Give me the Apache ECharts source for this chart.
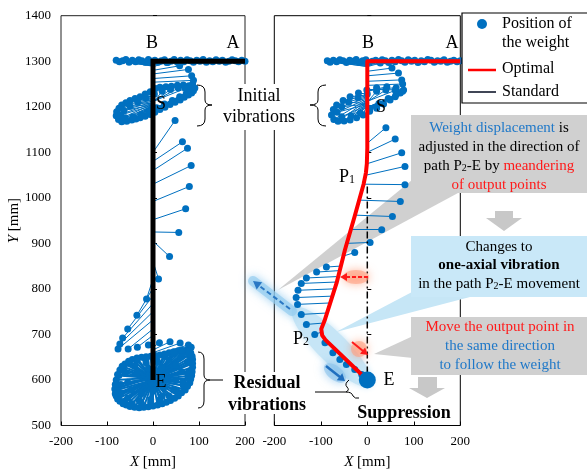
<!DOCTYPE html>
<html>
<head>
<meta charset="utf-8">
<script src="https://cdn.jsdelivr.net/npm/echarts@6/dist/echarts.min.js"></script>
<style>
html,body{margin:0;padding:0;background:#fff;}
#chart{width:587px;height:472px;}
</style>
</head>
<body>
<div id="chart"></div>
<script>
// ---------------- axis ticks ----------------
const xTicks = [-200, -100, 0, 100, 200];
const yTicks = [500, 600, 700, 800, 900, 1000, 1100, 1200, 1300, 1400];

// ---------------- Standard (left panel) ----------------
const stdPathX = [200, 0, 0];
const stdPathY = [1300, 1300, 600];

// weight positions (W) and output points (O) along A-B
const stdRowWX = [200,193,186,179,172,165,158,151,144,137,130,123,116,109,102,95,88,81,74,67,60,53,46,39,32,25,18,11,4,-3,-10,-17,-24,-31,-38,-45,-52,-59,-66,-73,-80];
const stdRowWY = [1300,1302,1299,1301,1303,1300,1298,1302,1300,1303,1299,1301,1298,1304,1300,1302,1298,1301,1303,1299,1302,1298,1304,1300,1297,1303,1301,1298,1302,1300,1304,1298,1301,1303,1299,1302,1298,1304,1301,1299,1302];
const stdRowOX = [200,197,192,186,180,174,167,160,153,146,139,132,125,118,111,104,97,90,83,76,69,62,55,48,41,34,27,20,13,6,0,0,0,0,0,0,0,0,0,0,0];
const stdRowOY = [1300,1300,1300,1300,1300,1300,1300,1300,1300,1300,1300,1300,1300,1300,1300,1300,1300,1300,1300,1300,1300,1300,1300,1300,1300,1300,1300,1300,1300,1300,1299,1298,1297,1296,1295,1294,1293,1292,1291,1290,1289];
// fan after B
const stdFanWX = [30,58,77,84,88,86];
const stdFanWY = [1297,1290,1282,1268,1258,1250];
const stdFanOX = [0,0,0,0,0,0];
const stdFanOY = [1288,1280,1272,1262,1254,1246];
// initial vibrations swirl
const stdSwirlWX = [91,78,66,53,40,28,15,4,-6,-17,-28,-39,-50,-59,-68,-74,-79,-80,-75,-68,-57,-46,-37,-28,-17,-6,4,15,26,37,48,59,68,77,84,88,70,55,38,20,3,-15,-33,-50,-63,-70,-60,-44,-26,-10,8,25,42,58,72,82];
const stdSwirlWY = [1241,1246,1248,1247,1245,1244,1243,1239,1233,1228,1222,1218,1214,1209,1204,1197,1189,1180,1172,1167,1168,1171,1173,1176,1179,1183,1188,1194,1199,1205,1210,1215,1221,1226,1230,1235,1240,1241,1238,1234,1228,1219,1210,1201,1192,1182,1176,1178,1183,1190,1198,1206,1214,1222,1228,1236];
const stdSwirlOX = [0,0,0,0,0,0,0,0,0,0,0,0,0,0,0,0,0,0,0,0,0,0,0,0,0,0,0,0,0,0,0,0,0,0,0,0,0,0,0,0,0,0,0,0,0,0,0,0,0,0,0,0,0,0,0,0];
const stdSwirlOY = [1242,1240,1238,1236,1234,1232,1230,1228,1226,1224,1222,1220,1218,1216,1214,1212,1210,1208,1206,1204,1203,1202,1201,1200,1199,1198,1197,1196,1195,1194,1193,1192,1191,1190,1189,1188,1212,1211,1210,1209,1208,1207,1206,1205,1204,1203,1202,1201,1200,1199,1198,1197,1196,1195,1194,1193];
// descending B-E
const stdDescWX = [48,64,75,83,79,71,56,36,12,-14,-35,-55,-66,-72,-76,-54,-34,-10,14,37,59,77,83];
const stdDescWY = [1170,1123,1109,1071,1025,976,924,871,822,778,742,712,692,679,668,668,672,677,682,684,681,677,672];
const stdDescOX = [0,0,0,0,0,0,0,0,0,0,0,0,0,0,0,0,0,0,0,0,0,0,0];
const stdDescOY = [1100,1080,1060,1030,992,952,925,905,860,822,802,785,768,750,732,712,698,688,672,666,660,654,648];
// residual vibrations at E
const stdResWX = [-83,-80,-72,-61,-45,-25,-5,15,35,55,72,82,86,86,84,80,70,55,38,20,0,-20,-40,-58,-72,-80,
  -70,-60,-40,-15,10,35,60,75,75,65,45,20,-5,-30,-55,-70,
  -55,-35,-10,20,50,62,50,25,0,-25,-48,
  -78,-74,-66,-52,-35,-15,5,25,45,65,78,82,80,76,66,52,35,15,-5,-25,-45,-62,-74,-79,
  -82,-77,-67,-53,-35,-15,5,25,45,63,78,85,86,85,82,75,62,47,29,10,-10,-30,-50,-65,-77,-82];
const stdResWY = [580,600,622,635,645,650,652,655,660,664,665,660,645,628,610,594,578,565,555,548,543,540,540,545,553,565,
  590,615,630,638,640,645,650,640,615,595,578,565,557,555,560,572,
  595,615,625,628,632,618,600,585,575,570,578,
  590,610,625,637,643,646,648,652,657,660,655,638,620,603,588,575,565,557,551,548,548,553,565,578,
  590,612,630,641,648,651,654,657,662,665,663,652,636,618,602,586,572,560,551,545,541,539,542,548,558,570];
const stdResOX = [0,0,0,0,0,0,0,0,0,0,0,0,0,0,0,0,0,0,0,0,0,0,0,0,0,0,
  0,0,0,0,0,0,0,0,0,0,0,0,0,0,0,0,
  0,0,0,0,0,0,0,0,0,0,0,
  0,0,0,0,0,0,0,0,0,0,0,0,0,0,0,0,0,0,0,0,0,0,0,0,
  0,0,0,0,0,0,0,0,0,0,0,0,0,0,0,0,0,0,0,0,0,0,0,0,0,0];
const stdResOY = [606,605,605,604,604,603,603,602,602,602,601,601,601,600,600,600,600,600,600,600,600,600,600,600,600,600,
  603,603,602,602,602,601,601,601,600,600,600,600,600,600,600,600,
  601,601,601,600,600,600,600,600,600,600,600,
  604,604,603,603,603,602,602,602,601,601,601,600,600,600,600,600,600,600,600,600,600,600,600,600,
  605,605,604,604,603,603,603,602,602,602,601,601,601,600,600,600,600,600,600,600,600,600,600,600,600,600];

// ---------------- Optimal (right panel) ----------------
const optPathX = [200, 0, 0, -1, -3, -8, -27, -48, -66, -92, -99, -97, -90, 0];
const optPathY = [1300, 1300, 1110, 1075, 1055, 1030, 960, 886, 813, 730, 712, 698, 688, 600];
const refLineX = [0, 0];
const refLineY = [1025, 600];

const optRowWX = [200,193,186,179,172,165,158,151,144,137,130,123,116,109,102,95,88,81,74,67,60,53,46,39,32,25,18,11,4,-3,-10,-17,-24,-31,-38,-45,-52,-59,-66,-73,-80,-86];
const optRowWY = [1301,1299,1302,1300,1298,1303,1300,1301,1298,1302,1304,1299,1301,1297,1302,1300,1303,1298,1301,1304,1299,1302,1297,1301,1303,1299,1302,1300,1297,1303,1301,1298,1304,1300,1302,1297,1301,1303,1299,1302,1298,1301];
const optRowOX = [200,197,192,186,180,174,167,160,153,146,139,132,125,118,111,104,97,90,83,76,69,62,55,48,41,34,27,20,13,6,0,0,0,0,0,0,0,0,0,0,0,0];
const optRowOY = [1300,1300,1300,1300,1300,1300,1300,1300,1300,1300,1300,1300,1300,1300,1300,1300,1300,1300,1300,1300,1300,1300,1300,1300,1300,1300,1300,1300,1300,1300,1299,1298,1297,1296,1295,1294,1293,1292,1291,1290,1289,1288];
const optFanWX = [28,53,67,74,76];
const optFanWY = [1296,1285,1274,1259,1250];
const optFanOX = [0,0,0,0,0];
const optFanOY = [1288,1278,1268,1256,1247];
const optSwirlWX = [78,62,42,20,-1,-19,-37,-52,-66,-73,-77,-72,-63,-50,-37,-23,-9,5,20,35,49,60,71,76,60,40,20,0,-20,-40,-55,-65,-55,-35,-15,5,25,45,62];
const optSwirlWY = [1237,1242,1244,1242,1237,1230,1222,1214,1204,1194,1182,1172,1168,1169,1171,1176,1182,1190,1197,1206,1215,1222,1230,1234,1236,1237,1234,1228,1220,1210,1200,1188,1178,1180,1187,1196,1207,1218,1227];
const optSwirlOX = [0,0,0,0,0,0,0,0,0,0,0,0,0,0,0,0,0,0,0,0,0,0,0,0,0,0,0,0,0,0,0,0,0,0,0,0,0,0,0];
const optSwirlOY = [1238,1236,1234,1232,1230,1228,1226,1224,1222,1220,1218,1216,1214,1212,1210,1208,1206,1204,1202,1200,1198,1196,1194,1192,1212,1211,1210,1209,1208,1207,1206,1205,1204,1203,1202,1201,1200,1199,1198];
const optDescWX = [40,60,74,81,81,71,54,31,6,-27,-88,-109,-131,-142,-149,-153,-150,-142,-131,-113,-91,-74,-59,-45,-27,-12];
const optDescWY = [1154,1129,1099,1069,1029,992,959,930,902,880,848,837,824,812,797,781,766,744,722,700,682,660,645,634,623,612];
const optDescOX = [0,0,0,-2,-7,-18,-27,-36,-44,-52,-59,-62,-66,-69,-73,-78,-82,-88,-94,-99,-90,-62,-47,-35,-19,-8];
const optDescOY = [1120,1100,1075,1050,1030,995,962,930,900,872,850,840,827,815,800,784,769,747,725,705,684,660,645,634,618,608];
const endX = [0];
const endY = [600];

// ---------------- build ----------------
const BLUE = '#0070C0';
const FONT = '"Liberation Serif", "Times New Roman", serif';

function pts(xs, ys) { return xs.map((x, i) => [x, ys[i]]); }
function segs(ox, oy, wx, wy) { return ox.map((x, i) => ({ coords: [[x, oy[i]], [wx[i], wy[i]]] })); }

const stdWX = [].concat(stdRowWX, stdFanWX, stdSwirlWX, stdDescWX, stdResWX);
const stdWY = [].concat(stdRowWY, stdFanWY, stdSwirlWY, stdDescWY, stdResWY);
const stdOX = [].concat(stdRowOX, stdFanOX, stdSwirlOX, stdDescOX);
const stdOY = [].concat(stdRowOY, stdFanOY, stdSwirlOY, stdDescOY);
const stdLX = [].concat(stdRowWX, stdFanWX, stdSwirlWX, stdDescWX);
const stdLY = [].concat(stdRowWY, stdFanWY, stdSwirlWY, stdDescWY);
const optWX = [].concat(optRowWX, optFanWX, optSwirlWX, optDescWX);
const optWY = [].concat(optRowWY, optFanWY, optSwirlWY, optDescWY);
const optOX = [].concat(optRowOX, optFanOX, optSwirlOX, optDescOX);
const optOY = [].concat(optRowOY, optFanOY, optSwirlOY, optDescOY);

const labelFmt = function (v) { return String(v); };
function xAx(gi) {
  return {
    gridIndex: gi, type: 'value', min: xTicks[0], max: xTicks[xTicks.length - 1], interval: 100,
    axisLine: { show: false },
    axisTick: { show: true, inside: true, length: 4, lineStyle: { color: '#000' } },
    splitLine: { show: false },
    axisLabel: { color: '#000', fontSize: 13, fontFamily: FONT, margin: 10, formatter: labelFmt },
    name: '{i|X} [mm]', nameLocation: 'middle', nameGap: 29,
    nameTextStyle: { color: '#000', fontSize: 15, fontFamily: FONT,
      rich: { i: { fontStyle: 'italic', fontSize: 15, fontFamily: FONT, color: '#000' } } }
  };
}
function yAx(gi, labels) {
  const a = {
    gridIndex: gi, type: 'value', min: yTicks[0], max: yTicks[yTicks.length - 1], interval: 100,
    axisLine: { show: false },
    axisTick: { show: true, inside: true, length: 4, lineStyle: { color: '#000' } },
    splitLine: { show: false },
    axisLabel: { show: labels, color: '#000', fontSize: 13, fontFamily: FONT, margin: 10, formatter: labelFmt }
  };
  if (labels) {
    a.name = '{i|Y} [mm]'; a.nameLocation = 'middle'; a.nameGap = 39;
    a.nameTextStyle = { color: '#000', fontSize: 15, fontFamily: FONT,
      rich: { i: { fontStyle: 'italic', fontSize: 15, fontFamily: FONT, color: '#000' } } };
  }
  return a;
}

// ---------------- annotation graphics ----------------
function rich(size) {
  return {
    b: { fill: '#1f78c8', fontSize: size, fontFamily: FONT },
    r: { fill: '#ff1a1a', fontSize: size, fontFamily: FONT },
    k: { fill: '#000', fontSize: size, fontFamily: FONT, fontWeight: 'bold' },
    s: { fill: '#000', fontSize: Math.round(size * 0.66), fontFamily: FONT, verticalAlign: 'bottom', lineHeight: 6 }
  };
}
function T(x, y, text, size, extra, z) {
  return { type: 'text', x: x, y: y, z: z || 30, silent: true,
    style: Object.assign({ text: text, fontSize: size, fontFamily: FONT, fill: '#000',
      align: 'center', verticalAlign: 'middle', rich: rich(size) }, extra || {}) };
}
function arrow(x1, y1, x2, y2, color, w, dash, hl, hw, z) {
  const dx = x2 - x1, dy = y2 - y1, L = Math.hypot(dx, dy), ux = dx / L, uy = dy / L;
  const bx = x2 - ux * hl, by = y2 - uy * hl;
  return [
    { type: 'line', z: z, silent: true, shape: { x1: x1, y1: y1, x2: bx + ux, y2: by + uy },
      style: { stroke: color, lineWidth: w, lineDash: dash || null } },
    { type: 'polygon', z: z, silent: true, shape: { points: [[x2, y2], [bx - uy * hw, by + ux * hw], [bx + uy * hw, by - ux * hw]] },
      style: { fill: color } }
  ];
}
function bz(x1, y1, cx, cy, x2, y2) {
  return { type: 'bezierCurve', z: 12, silent: true, shape: { x1: x1, y1: y1, cpx1: cx, cpy1: cy, x2: x2, y2: y2 },
    style: { stroke: '#000', fill: null, lineWidth: 1 } };
}
function ln(x1, y1, x2, y2) {
  return { type: 'line', z: 12, silent: true, shape: { x1: x1, y1: y1, x2: x2, y2: y2 }, style: { stroke: '#000', lineWidth: 1 } };
}
function brace(xe, xm, xt, y0, ym, y1) {
  return [
    bz(xe, y0, xm, y0, xm, y0 + 7), ln(xm, y0 + 7, xm, ym - 5), bz(xm, ym - 5, xm, ym, xt, ym),
    bz(xt, ym, xm, ym, xm, ym + 5), ln(xm, ym + 5, xm, y1 - 7), bz(xm, y1 - 7, xm, y1, xe, y1)
  ];
}

const G = [];
// pointer wedges and highlight (behind data)
G.push({ type: 'polygon', z: 1, silent: true, shape: { points: [[412, 180], [458, 193], [278, 290]] }, style: { fill: '#d0d0d0' } });
G.push({ type: 'polygon', z: 1, silent: true, shape: { points: [[412, 292], [470, 297], [336, 332]] }, style: { fill: '#c6e6f6' } });
G.push({ type: 'polygon', z: 1, silent: true, shape: { points: [[413, 336], [413, 358], [374, 354]] }, style: { fill: '#d0d0d0' } });
G.push({ type: 'ellipse', z: 1, silent: true, x: 332, y: 347, rotation: -Math.PI / 4, shape: { cx: 0, cy: 0, rx: 55, ry: 15 },
  style: { fill: '#c6e5f6', shadowBlur: 6, shadowColor: '#c6e5f6' } });
// blue glow + dashed arrow
G.push({ type: 'line', z: 1, silent: true, shape: { x1: 292, y1: 311, x2: 253, y2: 281 },
  style: { stroke: 'rgba(150,205,240,0.7)', lineWidth: 10, lineCap: 'round', shadowBlur: 10, shadowColor: 'rgba(110,185,235,0.9)' } });
Array.prototype.push.apply(G, arrow(290, 309, 253, 281, '#2a78c4', 2, [5, 3], 8, 4.5, 6));
// red glow + dashed arrow (left)
G.push({ type: 'ellipse', z: 6, silent: true, shape: { cx: 356, cy: 277, rx: 13, ry: 7 },
  style: { fill: 'rgba(255,160,130,0.6)', shadowBlur: 10, shadowColor: '#ff8a60' } });
Array.prototype.push.apply(G, arrow(368, 277, 340, 277, '#ff1a1a', 2, [4, 2], 7, 4, 7));
// red glow + arrow (down-right)
G.push({ type: 'circle', z: 6, silent: true, shape: { cx: 359, cy: 349, r: 8 },
  style: { fill: 'rgba(255,160,130,0.6)', shadowBlur: 10, shadowColor: '#ff8a60' } });
Array.prototype.push.apply(G, arrow(352, 342, 368, 355, '#ff1a1a', 2, null, 7, 4, 7));
// blue glow + arrow (down-right)
G.push({ type: 'ellipse', z: 6, silent: true, x: 335, y: 373, rotation: -0.66, shape: { cx: 0, cy: 0, rx: 13, ry: 7 },
  style: { fill: 'rgba(140,195,235,0.6)', shadowBlur: 10, shadowColor: 'rgba(90,170,230,0.9)' } });
Array.prototype.push.apply(G, arrow(326, 366, 345, 381, '#1f6fbf', 2.5, null, 7, 4.5, 7));

// callout boxes
G.push({ type: 'rect', z: 20, silent: true, shape: { x: 411, y: 115, width: 177, height: 78 }, style: { fill: '#d0d0d0' } });
G.push(T(499, 128, '{b|Weight displacement} is', 15));
G.push(T(499, 147, 'adjusted in the direction of', 15));
G.push(T(499, 166, 'path P{s|2}-E by {r|meandering}', 15));
G.push(T(499, 185, '{r|of output points}', 15));
G.push({ type: 'polygon', z: 20, silent: true, shape: { points: [[495, 211], [513, 211], [513, 218], [522, 218], [504, 231], [486, 218], [495, 218]] }, style: { fill: '#c8c8c8' } });
G.push({ type: 'rect', z: 20, silent: true, shape: { x: 411, y: 236, width: 177, height: 61 }, style: { fill: '#c9e8f8' } });
G.push(T(499, 247, 'Changes to', 15));
G.push(T(499, 265, '{k|one-axial vibration}', 15));
G.push(T(499, 284, 'in the path P{s|2}-E movement', 15));
G.push({ type: 'rect', z: 20, silent: true, shape: { x: 411, y: 317, width: 177, height: 58 }, style: { fill: '#d0d0d0' } });
G.push(T(500, 327, '{r|Move the output point in}', 15));
G.push(T(500, 346, '{b|the same direction}', 15));
G.push(T(500, 365, '{b|to follow the weight}', 15));
G.push({ type: 'polygon', z: 20, silent: true, shape: { points: [[418, 377], [437, 377], [437, 388], [445, 388], [427, 398], [409, 388], [418, 388]] }, style: { fill: '#c8c8c8' } });
G.push(T(404, 413, 'Suppression', 18, { fontWeight: 'bold' }));

// braces and side labels
G.push({ type: 'rect', z: 10, silent: true, shape: { x: 221, y: 84, width: 77, height: 46 }, style: { fill: '#fff' } });
G.push(T(259, 96, 'Initial', 18));
G.push(T(259, 117, 'vibrations', 18));
Array.prototype.push.apply(G, brace(197, 205, 212, 85, 105, 126));
Array.prototype.push.apply(G, brace(326, 318, 310, 85, 105, 126));
G.push({ type: 'rect', z: 10, silent: true, shape: { x: 226, y: 372, width: 83, height: 42 }, style: { fill: '#fff' } });
G.push(T(267, 383, 'Residual', 18, { fontWeight: 'bold' }));
G.push(T(267, 405, 'vibrations', 18, { fontWeight: 'bold' }));
Array.prototype.push.apply(G, brace(198, 204, 210, 352, 380, 408));
G.push(ln(210, 380, 223, 380));
G.push(ln(315, 392, 346, 392));
G.push(bz(349, 380, 344, 384, 347, 387));
G.push(bz(347, 387, 350, 390, 346, 392));
G.push(bz(346, 392, 352, 392, 353, 396));
G.push(bz(353, 396, 355, 399, 359, 398));

// point letters
G.push(T(152, 43, 'B', 18));
G.push(T(233, 43, 'A', 18));
G.push(T(161, 104, 'S', 18));
G.push(T(161, 382, 'E', 18));
G.push(T(368, 43, 'B', 18));
G.push(T(452, 43, 'A', 18));
G.push(T(381, 107, 'S', 18));
G.push(T(389, 380, 'E', 18));
G.push(T(347, 177, 'P{s|1}', 18));
G.push(T(301, 339, 'P{s|2}', 18));

// legend
G.push({ type: 'rect', z: 20, silent: true, shape: { x: 462, y: 13, width: 130, height: 90 }, style: { fill: '#fff', stroke: '#000', lineWidth: 1.2 } });
G.push({ type: 'circle', z: 21, silent: true, shape: { cx: 482, cy: 24, r: 5 }, style: { fill: BLUE } });
G.push(T(502, 24, 'Position of', 16, { align: 'left' }, 21));
G.push(T(502, 43, 'the weight', 16, { align: 'left' }, 21));
G.push({ type: 'line', z: 21, silent: true, shape: { x1: 468, y1: 70, x2: 496, y2: 70 }, style: { stroke: '#ff0000', lineWidth: 2.5 } });
G.push(T(502, 69, 'Optimal', 16, { align: 'left' }, 21));
G.push({ type: 'line', z: 21, silent: true, shape: { x1: 468, y1: 92, x2: 496, y2: 92 }, style: { stroke: '#404656', lineWidth: 2 } });
G.push(T(502, 92, 'Standard', 16, { align: 'left' }, 21));

const option = {
  animation: false,
  backgroundColor: '#fff',
  grid: [
    { left: 61, top: 15.7, width: 184, height: 409.8, show: true, borderColor: '#222', borderWidth: 1, containLabel: false, outerBoundsMode: 'none' },
    { left: 274.3, top: 15.7, width: 186, height: 409.8, show: true, borderColor: '#000', borderWidth: 1, containLabel: false, outerBoundsMode: 'none' }
  ],
  xAxis: [xAx(0), xAx(1)],
  yAxis: [yAx(0, true), yAx(1, false)],
  series: [
    { name: 'stdLinks', type: 'lines', coordinateSystem: 'cartesian2d', xAxisIndex: 0, yAxisIndex: 0, silent: true, z: 2,
      data: segs(stdOX, stdOY, stdLX, stdLY), lineStyle: { color: BLUE, width: 1, opacity: 1 } },
    { name: 'stdResLinks', type: 'lines', coordinateSystem: 'cartesian2d', xAxisIndex: 0, yAxisIndex: 0, silent: true, z: 2,
      data: segs(stdResOX, stdResOY, stdResWX, stdResWY), lineStyle: { color: BLUE, width: 2, opacity: 1 } },
    { name: 'Position of the weight', type: 'scatter', xAxisIndex: 0, yAxisIndex: 0, silent: true, z: 3,
      data: pts(stdWX, stdWY), symbolSize: 7, itemStyle: { color: BLUE, opacity: 1 } },
    { name: 'Standard', type: 'line', xAxisIndex: 0, yAxisIndex: 0, silent: true, z: 4,
      data: pts(stdPathX, stdPathY), showSymbol: false, symbol: 'none', lineStyle: { color: '#000', width: 5, join: 'miter' } },
    { name: 'optLinks', type: 'lines', coordinateSystem: 'cartesian2d', xAxisIndex: 1, yAxisIndex: 1, silent: true, z: 2,
      data: segs(optOX, optOY, optWX, optWY), lineStyle: { color: BLUE, width: 1, opacity: 1 } },
    { name: 'Position of the weight (optimal)', type: 'scatter', xAxisIndex: 1, yAxisIndex: 1, silent: true, z: 3,
      data: pts(optWX, optWY), symbolSize: 7, itemStyle: { color: BLUE, opacity: 1 } },
    { name: 'ref', type: 'line', xAxisIndex: 1, yAxisIndex: 1, silent: true, z: 4,
      data: pts(refLineX, refLineY), showSymbol: false, symbol: 'none', lineStyle: { color: '#000', width: 1.5, type: [7, 3, 2, 3] } },
    { name: 'Optimal', type: 'line', xAxisIndex: 1, yAxisIndex: 1, silent: true, z: 5,
      data: pts(optPathX, optPathY), showSymbol: false, symbol: 'none', lineStyle: { color: '#ff0000', width: 4, join: 'round' } },
    { name: 'End', type: 'scatter', xAxisIndex: 1, yAxisIndex: 1, silent: true, z: 6,
      data: pts(endX, endY), symbolSize: 17, itemStyle: { color: BLUE, opacity: 1 } }
  ],
  graphic: G
};

const chart = echarts.init(document.getElementById('chart'), null, { renderer: 'canvas' });
chart.setOption(option);
</script>
</body>
</html>
